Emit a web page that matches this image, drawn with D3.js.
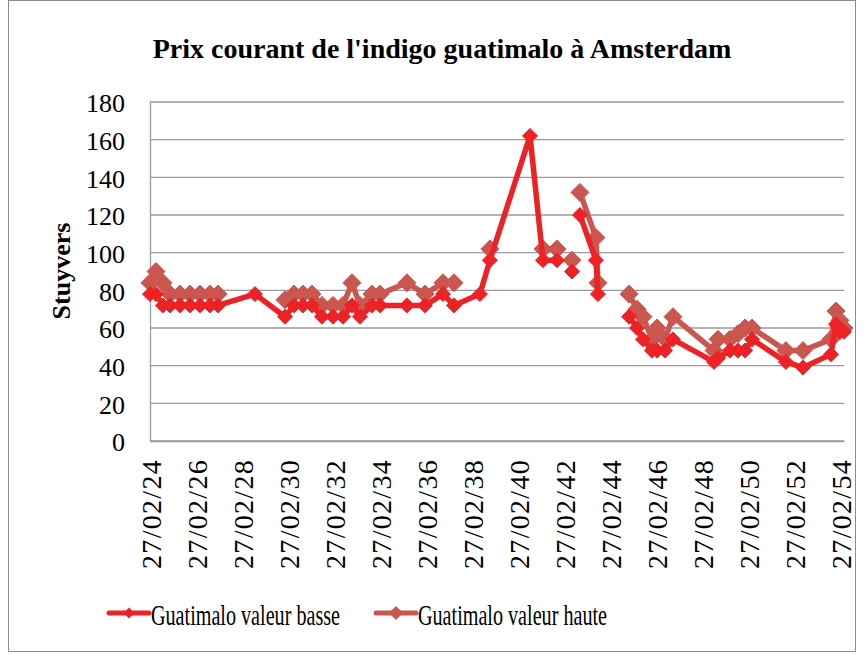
<!DOCTYPE html>
<html>
<head>
<meta charset="utf-8">
<script src="https://cdn.jsdelivr.net/npm/d3@7"></script>
<style>
  body { margin: 0; background: #fff; }
  text { font-family: "Liberation Serif", "Times New Roman", serif; fill: #000; }
</style>
</head>
<body>
<svg width="864" height="655"></svg>
<script>
// dates of the price lists, null rows are empty cells (gaps in the lines)
let dates = [
  "1724-02-27", "1724-06-01", "1724-09-20", "1725-01-10", "1725-06-17", "1725-11-23",
  "1726-05-01", "1726-10-06", "1727-02-11", "1728-09-20", "1730-01-10", "1730-06-02",
  "1730-10-22", "1731-03-14", "1731-08-20", "1732-02-11", "1732-07-19", "1732-12-08",
  "1733-04-15", "1733-10-22", "1734-02-27", "1735-05-01", "1736-02-11", "1736-11-23",
  "1737-05-16", "1738-07-03", "1738-12-08", "1740-09-05", "1741-03-30", "1741-11-07",
  "1742-03-01", "1742-07-03", "1742-09-01", "1742-11-07", "1743-07-19", "1743-08-20",
  "1744-04-01", "1744-12-25", "1745-05-01", "1745-08-04", "1745-12-25", "1746-03-14",
  "1746-07-19", "1746-11-23", "1748-09-05", "1748-11-07", "1749-05-16", "1749-09-20",
  "1750-01-10", "1750-05-01", "1751-10-22", "1752-07-19", "1753-10-06", "1753-12-25",
  "1754-02-27", "1754-05-01"
];
let basse = [
  78, 78, 72, 72, 72, 72,
  72, 72, 72, 78, 66, 72,
  72, 72, 66, 66, 66, 72,
  66, 72, 72, 72, 72, 78,
  72, 78, 96, 162, 96, 96,
  null, 90, null, 120, 96, 78,
  null, 66, 60, 54, 48, 48,
  48, 54, 42, 44, 48, 48,
  48, 54, 42, 39, 46, 62,
  58, 58
];
let haute = [
  84, 90, 84, 78, 78, 78,
  78, 78, 78, null, 75, 78,
  78, 78, 72, 72, 72, 84,
  72, 78, 78, 84, 78, 84,
  84, null, 102, null, 102, 102,
  null, 96, null, 132, 108, 84,
  null, 78, 70, 66, 54, 60,
  54, 66, 48, 54, 54, 57,
  60, 60, 48, 48, 54, 69,
  64, 60
];
let yTicks = [0, 20, 40, 60, 80, 100, 120, 140, 160, 180];
let xTickLabels = [
  "1724-02-27", "1726-02-27", "1728-02-27", "1730-02-27", "1732-02-27", "1734-02-27",
  "1736-02-27", "1738-02-27", "1740-02-27", "1742-02-27", "1744-02-27", "1746-02-27",
  "1748-02-27", "1750-02-27", "1752-02-27", "1754-02-27"
];

let parse = d3.timeParse("%Y-%m-%d");
let fmt = d3.timeFormat("%d/%m/%y");

let series = [
  { name: "Guatimalo valeur haute", values: haute, color: "#CB564F", size: 9 },
  { name: "Guatimalo valeur basse", values: basse, color: "#ED2226", size: 7.5 }
];

let svg = d3.select("svg");
let plotLeft = 150, plotRight = 844, plotTop = 102, plotBottom = 441;

// outer chart border
svg.append("rect")
  .attr("x", 8.5).attr("y", 0.5)
  .attr("width", 847).attr("height", 651)
  .attr("fill", "#fff")
  .attr("stroke", "#8c8c8c");

let x = d3.scaleTime()
  .domain(d3.extent(dates, function(d) { return parse(d); }))
  .range([plotLeft, plotRight]);
let y = d3.scaleLinear().domain([0, 180]).range([plotBottom, plotTop]);

// gridlines
svg.append("g")
  .selectAll("line")
  .data(yTicks)
  .enter()
  .append("line")
  .attr("x1", plotLeft).attr("x2", plotRight)
  .attr("y1", function(d) { return y(d); })
  .attr("y2", function(d) { return y(d); })
  .attr("stroke", "#9a9a9a")
  .attr("stroke-width", 1.3);

// y axis
let yAxis = svg.append("g")
  .attr("transform", "translate(" + plotLeft + ",0)")
  .call(d3.axisLeft(y).tickValues(yTicks).tickSize(0).tickPadding(25));
yAxis.select(".domain").attr("stroke", "#9a9a9a").attr("stroke-width", 1.3);
yAxis.selectAll("text")
  .attr("font-family", "Liberation Serif")
  .attr("font-size", 26)
  .attr("dy", "0.38em");

// x axis
let xAxis = svg.append("g")
  .attr("transform", "translate(0," + plotBottom + ")")
  .call(d3.axisBottom(x)
    .tickValues(xTickLabels.map(function(d) { return parse(d); }))
    .tickFormat(fmt)
    .tickSize(0));
xAxis.select(".domain").attr("stroke", "#9a9a9a").attr("stroke-width", 1.3);
xAxis.selectAll("text")
  .attr("font-family", "Liberation Serif")
  .attr("font-size", 28)
  .attr("letter-spacing", 1.3)
  .attr("text-anchor", "end")
  .attr("transform", "rotate(-90)")
  .attr("x", -18)
  .attr("y", 0)
  .attr("dy", "0.36em");

let diamond = function(s) {
  return "M0," + (-s) + "L" + s + ",0L0," + s + "L" + (-s) + ",0Z";
};

let line = d3.line()
  .defined(function(d) { return d.v != null; })
  .x(function(d) { return x(d.date); })
  .y(function(d) { return y(d.v); });

series.forEach(function(s) {
  let pts = dates.map(function(d, i) { return { date: parse(d), v: s.values[i] }; });
  svg.append("path")
    .datum(pts)
    .attr("d", line)
    .attr("fill", "none")
    .attr("stroke", s.color)
    .attr("stroke-width", 5.5)
    .attr("stroke-linejoin", "round");
  svg.append("g")
    .selectAll("path")
    .data(pts.filter(function(d) { return d.v != null; }))
    .enter()
    .append("path")
    .attr("transform", function(d) { return "translate(" + x(d.date) + "," + y(d.v) + ")"; })
    .attr("d", diamond(s.size))
    .attr("fill", s.color)
    .attr("stroke", s.color)
    .attr("stroke-width", 1);
});

// title
svg.append("text")
  .attr("x", 442).attr("y", 58)
  .attr("text-anchor", "middle")
  .attr("font-size", 28)
  .attr("font-weight", "bold")
  .text("Prix courant de l'indigo guatimalo à Amsterdam");

// y axis title
svg.append("text")
  .attr("transform", "translate(70,271) rotate(-90)")
  .attr("text-anchor", "middle")
  .attr("font-size", 26)
  .attr("font-weight", "bold")
  .text("Stuyvers");

// legend
let legend = [
  { name: "Guatimalo valeur basse", color: "#ED2226", x: 109, size: 5.5 },
  { name: "Guatimalo valeur haute", color: "#CB564F", x: 376, size: 7 }
];
legend.forEach(function(l) {
  let g = svg.append("g").attr("transform", "translate(" + l.x + ",613)");
  g.append("line")
    .attr("x1", 0).attr("x2", 40)
    .attr("stroke", l.color)
    .attr("stroke-width", 5)
    .attr("stroke-linecap", "round");
  g.append("path")
    .attr("transform", "translate(20,0)")
    .attr("d", diamond(l.size))
    .attr("fill", l.color);
  g.append("text")
    .attr("x", 42).attr("y", 12)
    .attr("font-size", 29)
    .attr("textLength", 189)
    .attr("lengthAdjust", "spacingAndGlyphs")
    .text(l.name);
});
</script>
</body>
</html>
